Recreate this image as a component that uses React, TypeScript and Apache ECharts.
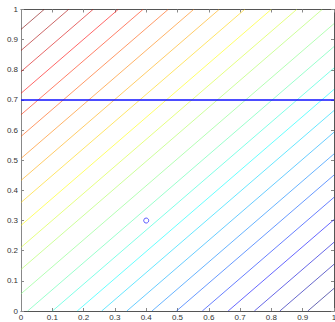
import React, { useEffect, useRef } from "react";
import * as echarts from "echarts";

// Contour lines: y = SLOPE * x + intercept
const SLOPE = 0.896;
const intercepts = [
  0.934, 0.864, 0.794, 0.722, 0.651, 0.579, 0.506, 0.433, 0.36, 0.284, 0.211, 0.138, 0.057,
  -0.019, -0.09, -0.161, -0.231, -0.303, -0.375, -0.445, -0.519, -0.593, -0.668, -0.741, -0.821,
];
const constraintY = 0.7;
const point = [0.4, 0.3];

function jet(v: number): string {
  const c = (t: number) => Math.max(0, Math.min(1, t));
  const r = c(1.5 - Math.abs(4 * v - 3));
  const g = c(1.5 - Math.abs(4 * v - 2));
  const b = c(1.5 - Math.abs(4 * v - 1));
  return `rgb(${Math.round(r * 255)},${Math.round(g * 255)},${Math.round(b * 255)})`;
}

function clipLine(c: number): number[][] {
  const pts: number[][] = [];
  const y0 = c;
  if (y0 >= 0 && y0 <= 1) pts.push([0, y0]);
  else pts.push([(0 - c) / SLOPE, 0]);
  const y1 = SLOPE + c;
  if (y1 >= 0 && y1 <= 1) pts.push([1, y1]);
  else pts.push([(1 - c) / SLOPE, 1]);
  return pts;
}

export default function App() {
  const ref = useRef<HTMLDivElement>(null);
  useEffect(() => {
    document.body.style.margin = "0";
    const chart = echarts.init(ref.current!, null, { renderer: "svg" });
    const n = intercepts.length;
    const contourSeries = intercepts.map((c, i) => ({
      type: "line",
      data: clipLine(c),
      showSymbol: false,
      symbol: "none",
      silent: true,
      lineStyle: { color: jet(1 - i / (n - 1)), width: 1, opacity: 0.6 },
      z: 2,
    }));
    const axisLabel = { fontSize: 8, lineHeight: 8, color: "#333", fontFamily: "Liberation Sans, Arial", margin: 3 };
    const axisCommon = {
      type: "value",
      min: 0,
      max: 1,
      interval: 0.1,
      splitLine: { show: false },
      axisLine: { show: true, onZero: false, lineStyle: { color: "#555", width: 1 } },
      axisTick: { show: true, inside: true, length: 3, lineStyle: { color: "#888" } },
    };
    chart.setOption({
      animation: false,
      backgroundColor: "#fff",
      grid: { left: 21, right: 1, top: 9.5, bottom: 11, containLabel: false, outerBoundsMode: "none" },
      xAxis: [
        { ...axisCommon, position: "bottom", axisLabel: { ...axisLabel, margin: 2, formatter: (v: number) => String(+v.toFixed(1)) } },
        { ...axisCommon, position: "top", axisLabel: { show: false } },
      ],
      yAxis: [
        { ...axisCommon, position: "left", axisLine: { ...axisCommon.axisLine, lineStyle: { color: "#888", width: 1 } }, axisLabel: { ...axisLabel, formatter: (v: number) => String(+v.toFixed(1)) } },
        { ...axisCommon, position: "right", axisLabel: { show: false } },
      ],
      series: [
        ...contourSeries,
        {
          type: "line",
          data: [[0, constraintY], [1, constraintY]],
          symbol: "none",
          lineStyle: { color: "#1010ff", width: 1.6 },
          z: 3,
        },
        {
          type: "scatter",
          data: [point],
          symbol: "circle",
          symbolSize: 5,
          itemStyle: { color: "rgba(0,0,0,0)", borderColor: "#3030ff", borderWidth: 1 },
          z: 4,
        },
      ],
    });
    return () => chart.dispose();
  }, []);
  return <div ref={ref} style={{ width: 335, height: 322, position: "absolute", left: 0, top: 0 }} />;
}
